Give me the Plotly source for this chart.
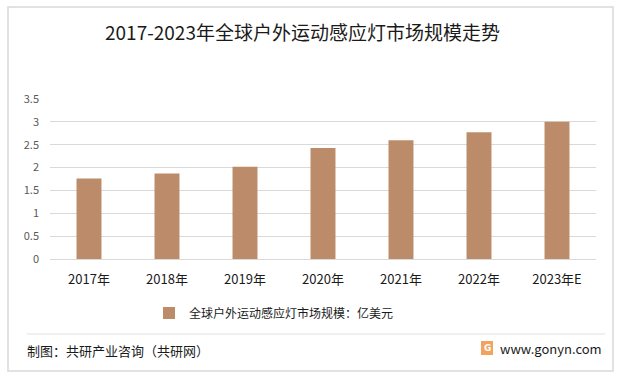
import plotly.graph_objects as go

categories = ["2017年", "2018年", "2019年", "2020年", "2021年", "2022年", "2023年E"]
market_size = [1.76, 1.87, 2.02, 2.43, 2.60, 2.77, 3.00]
y_ticks = [0, 0.5, 1, 1.5, 2, 2.5, 3, 3.5]
y_tick_labels = ["0", "0.5", "1", "1.5", "2", "2.5", "3", "3.5"]

title_text = "2017-2023年全球户外运动感应灯市场规模走势"
series_name = "全球户外运动感应灯市场规模：亿美元"
source_text = "制图：共研产业咨询（共研网）"
site_text = "www.gonyn.com"

FONT = "Noto Sans CJK SC, Microsoft YaHei, sans-serif"
BAR_COLOR = "#BC8C6A"

fig = go.Figure()
fig.add_trace(go.Bar(
    x=categories, y=market_size, name=series_name,
    marker=dict(color=BAR_COLOR, line=dict(width=0)),
    width=0.32,
))

W, H = 621, 377
L, R, T, B = 50, 25, 99, 118


def pxp(x):
    return (x - L) / (W - L - R)


def pyp(y):
    return (H - B - y) / (H - T - B)


shapes = [
    # outer border
    dict(type="rect", xref="paper", yref="paper",
         x0=pxp(8), x1=pxp(613), y0=pyp(371), y1=pyp(7),
         line=dict(color="#D9D9D9", width=1.5), fillcolor="rgba(0,0,0,0)", layer="below"),
    # footer separator
    dict(type="line", xref="paper", yref="paper",
         x0=pxp(27), x1=pxp(605), y0=pyp(334), y1=pyp(334),
         line=dict(color="#E0E0E0", width=1)),
    # logo
    dict(type="rect", xref="paper", yref="paper",
         x0=pxp(481), x1=pxp(493), y0=pyp(355), y1=pyp(341),
         line=dict(width=0), fillcolor="#F2A35E"),
]

annotations = [
    dict(text=title_text, x=pxp(302), y=pyp(31), xref="paper", yref="paper",
         showarrow=False, xanchor="center", yanchor="middle",
         font=dict(family=FONT, size=19, color="#1a1a1a")),
    dict(text=source_text, x=pxp(25), y=pyp(350), xref="paper", yref="paper",
         showarrow=False, xanchor="left", yanchor="middle",
         font=dict(family=FONT, size=13, color="#1a1a1a")),
    dict(text=site_text, x=pxp(498), y=pyp(348), xref="paper", yref="paper",
         showarrow=False, xanchor="left", yanchor="middle",
         font=dict(family=FONT, size=13, color="#1a1a1a")),
    dict(text="<b>G</b>", x=pxp(487), y=pyp(348), xref="paper", yref="paper",
         showarrow=False, xanchor="center", yanchor="middle",
         font=dict(family="DejaVu Sans", size=9, color="white")),
]

fig.update_layout(
    width=W, height=H,
    margin=dict(l=L, r=R, t=T, b=B, pad=0),
    paper_bgcolor="white", plot_bgcolor="white",
    font=dict(family=FONT, size=12, color="#1a1a1a"),
    showlegend=True,
    legend=dict(orientation="h", x=pxp(274), xanchor="center", y=pyp(313), yanchor="middle",
                font=dict(family=FONT, size=12, color="#1a1a1a"),
                itemwidth=30, bgcolor="rgba(0,0,0,0)"),
    bargap=0.68,
    xaxis=dict(showgrid=False, showline=False, zeroline=False, ticks="",
               tickfont=dict(family=FONT, size=13, color="#1a1a1a"),
               ticklabelstandoff=11),
    yaxis=dict(range=[0, 3.5], tickvals=y_ticks, ticktext=y_tick_labels,
               showgrid=True, gridcolor="#D9D9D9", gridwidth=1,
               zeroline=True, zerolinecolor="#D9D9D9", zerolinewidth=1,
               showline=False, ticks="",
               tickfont=dict(family=FONT, size=11, color="#595959"),
               ticklabelstandoff=10),
    shapes=shapes,
    annotations=annotations,
)

fig.write_html("out.html", config={"displayModeBar": False},
               post_script="document.body.style.margin='0';document.body.style.overflow='hidden';")
